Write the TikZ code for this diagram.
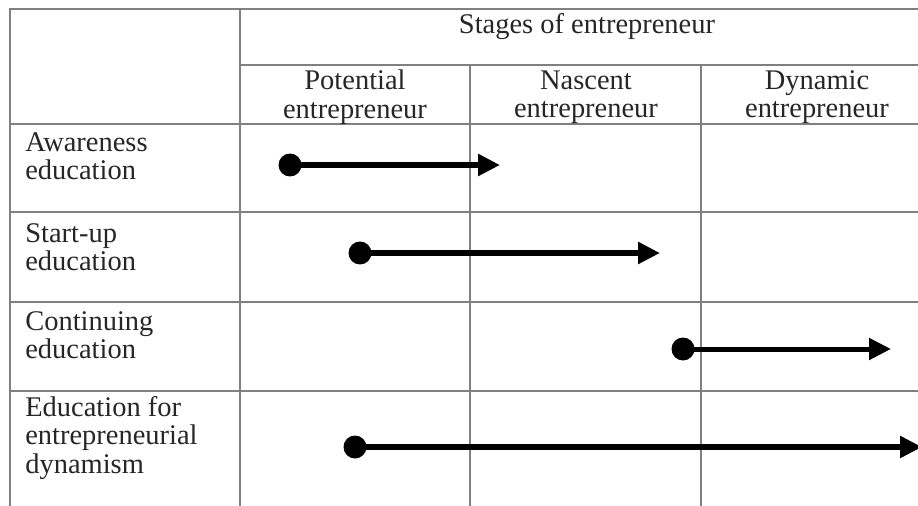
\documentclass[tikz,border=0pt]{standalone}
\usepackage{fontspec}
\setmainfont{Liberation Serif}
\usepackage{tikz}
\usetikzlibrary{arrows.meta}
\tikzstyle{stages}=[x=0.02cm, y=-0.02cm, font=\fontsize{16.2}{16.2}\selectfont, text=black!85]
\tikzstyle{grid}=[draw=black!50, line width=0.03cm]
\tikzstyle{head}=[inner sep=0pt, align=center]
\tikzstyle{rowlab}=[inner sep=0pt, align=left, anchor=west]
\tikzstyle{dot}=[circle, inner sep=0pt, minimum size=0.46cm, fill=black]
\tikzstyle{edge}=[-{Triangle[length=0.44cm, width=0.42cm]}, line width=0.12cm, black]
\newcommand{\rowX}{25}
\newcommand{\tabL}{10}
\newcommand{\tabR}{918}

\begin{document}
\begin{tikzpicture}[stages]
	\useasboundingbox (0,0) rectangle (918,506);
	%The grid
	\draw[grid] (\tabR,9) -- (\tabL,9) -- (\tabL,506);
	\draw[grid] (240,9) -- (240,506);
	\draw[grid] (240,65) -- (\tabR,65);
	\draw[grid] (470,65) -- (470,506);
	\draw[grid] (701,65) -- (701,506);
	\foreach \y in {124,212,302,391}
		\draw[grid] (\tabL,\y) -- (\tabR,\y);

	%The header
	\node[head] (stages) at (587,27) {Stages of entrepreneur};
	\node[head] (pot) at (355,97) {Potential\\entrepreneur};
	\node[head] (nas) at (586,97) {Nascent\\entrepreneur};
	\node[head] (dyn) at (817,97) {Dynamic\\entrepreneur};

	%The rows
	\node[rowlab] (aware) at (\rowX,156) {Awareness\\education};
	\node[rowlab] (start) at (\rowX,247) {Start-up\\education};
	\node[rowlab] (cont) at (\rowX,335) {Continuing\\education};
	\node[rowlab] (dynam) at (\rowX,438) {Education for\\entrepreneurial\\dynamism};

	%The arrows
	\node[dot] (d1) at (290,165) {};
	\coordinate (t1) at (500,165);
	\draw[edge] (d1.center) -- (t1);
	\node[dot] (d2) at (360,253) {};
	\coordinate (t2) at (660,253);
	\draw[edge] (d2.center) -- (t2);
	\node[dot] (d3) at (683,349) {};
	\coordinate (t3) at (891,349);
	\draw[edge, line width=0.1cm] (d3.center) -- (t3);
	\node[dot] (d4) at (355,447) {};
	\coordinate (t4) at (922,447);
	\draw[edge] (d4.center) -- (t4);
\end{tikzpicture}
\end{document}
